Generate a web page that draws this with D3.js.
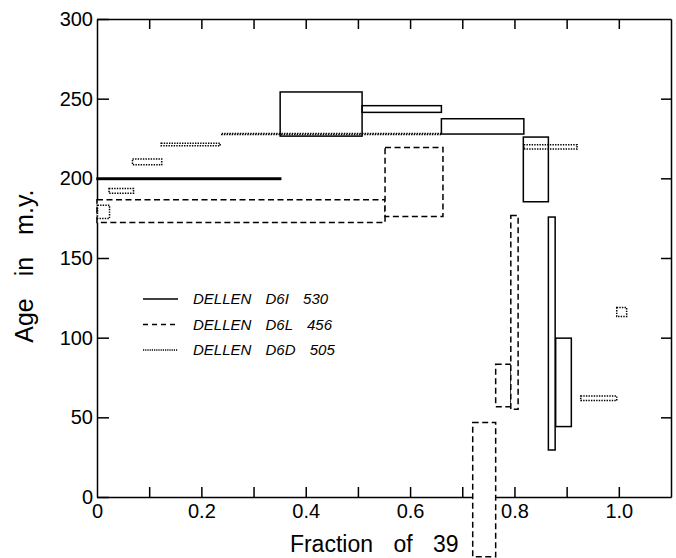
<!DOCTYPE html>
<html>
<head>
<meta charset="utf-8">
<script src="https://cdn.jsdelivr.net/npm/d3@7"></script>
<style>
  body { margin: 0; background: #fff; }
  .chart svg { display: block; }
  .axis path, .axis line { stroke: #000; stroke-width: 1.5; }
  .axis text { font-family: "Liberation Sans", Arial, sans-serif; font-size: 20px; fill: #000; }
  .title { font-family: "Liberation Sans", Arial, sans-serif; font-size: 23px; fill: #000; }
  .legend text { font-family: "Liberation Sans", Arial, sans-serif; font-style: italic; font-size: 15px; fill: #000; }
</style>
</head>
<body>
<div class="chart"></div>
<script>
// release spectra: each box is a step [fraction start, fraction end] x [age low, age high]
var solidBoxes = [
  { x0: 0.000, x1: 0.352, lo: 199.3, hi: 200.2 },
  { x0: 0.351, x1: 0.508, lo: 226.5, hi: 254.2 },
  { x0: 0.508, x1: 0.660, lo: 241.4, hi: 245.6 },
  { x0: 0.660, x1: 0.818, lo: 227.8, hi: 237.4 },
  { x0: 0.817, x1: 0.865, lo: 185.3, hi: 225.9 },
  { x0: 0.865, x1: 0.878, lo: 29.5, hi: 175.7 },
  { x0: 0.879, x1: 0.909, lo: 44.2, hi: 99.7 }
];
var dashedBoxes = [
  { x0: 0.000, x1: 0.552, lo: 172.3, hi: 186.6 },
  { x0: 0.552, x1: 0.663, lo: 176.1, hi: 219.4 },
  { x0: 0.720, x1: 0.764, lo: -37.5, hi: 46.7 },
  { x0: 0.764, x1: 0.793, lo: 56.7, hi: 83.3 },
  { x0: 0.793, x1: 0.807, lo: 55.0, hi: 176.7 }
];
var dottedBoxes = [
  { x0: 0.001, x1: 0.024, lo: 174.8, hi: 183.1 },
  { x0: 0.023, x1: 0.070, lo: 190.7, hi: 193.6 },
  { x0: 0.068, x1: 0.124, lo: 208.5, hi: 212.1 },
  { x0: 0.123, x1: 0.236, lo: 220.4, hi: 222.0 },
  { x0: 0.239, x1: 0.660, lo: 227.5, hi: 228.1 },
  { x0: 0.818, x1: 0.920, lo: 218.4, hi: 221.1 },
  { x0: 0.927, x1: 0.996, lo: 60.5, hi: 63.4 },
  { x0: 0.996, x1: 1.015, lo: 113.3, hi: 118.9 }
];
var legendLabels = ["DELLEN D6I 530", "DELLEN D6L 456", "DELLEN D6D 505"];
var xTicks = [0.1, 0.2, 0.3, 0.4, 0.5, 0.6, 0.7, 0.8, 0.9, 1.0];
var xTickLabels = ["0", "0.2", "0.4", "0.6", "0.8", "1.0"];
var xLabelValues = [0, 0.2, 0.4, 0.6, 0.8, 1.0];
var yTicks = [0, 50, 100, 150, 200, 250, 300];

var chart = {};
chart.margin = { top: 19, right: 5, bottom: 61, left: 97 };
chart.width = 676 - chart.margin.left - chart.margin.right;
chart.height = 558 - chart.margin.top - chart.margin.bottom;
chart.xScale = d3.scaleLinear().domain([0, 1.1]).range([0, chart.width]);
chart.yScale = d3.scaleLinear().domain([0, 300]).range([chart.height, 0]);

var styles = [
  { data: dashedBoxes, dash: "6,3.5", fill: "#fff" },
  { data: solidBoxes, dash: null, fill: "none" },
  { data: dottedBoxes, dash: "1.4,1.2", fill: "none" }
];

var svg = d3.select(".chart").append("svg")
  .attr("width", 676)
  .attr("height", 558)
  .append("g")
  .attr("transform", `translate(${chart.margin.left}, ${chart.margin.top})`);

// frame + ticks (all ticks point inward)
svg.append("g")
  .attr("class", "x axis")
  .attr("transform", `translate(0, ${chart.height})`)
  .call(d3.axisBottom(chart.xScale).tickValues(xTicks).tickSize(-10).tickSizeOuter(0).tickFormat(""));

svg.append("g")
  .attr("class", "x axis labels")
  .attr("transform", `translate(0, ${chart.height})`)
  .call(d3.axisBottom(chart.xScale).tickValues(xLabelValues).tickSize(0).tickPadding(7)
    .tickFormat((d, i) => xTickLabels[i]))
  .call(g => g.select(".domain").remove());

svg.append("g")
  .attr("class", "x axis")
  .call(d3.axisTop(chart.xScale).tickValues(xTicks).tickSize(-10).tickSizeOuter(0).tickFormat(""));

svg.append("g")
  .attr("class", "y axis")
  .call(d3.axisLeft(chart.yScale).tickValues(yTicks).tickSize(-12).tickSizeOuter(0).tickPadding(4).tickFormat(d3.format("d")));

svg.append("g")
  .attr("class", "y axis")
  .attr("transform", `translate(${chart.width}, 0)`)
  .call(d3.axisRight(chart.yScale).tickValues(yTicks.slice(1, -1)).tickSize(-10).tickSizeOuter(0).tickFormat(""));

// boxes
styles.forEach(function(s) {
  svg.append("g").selectAll("rect")
    .data(s.data)
    .enter().append("rect")
    .attr("x", d => chart.xScale(d.x0))
    .attr("y", d => chart.yScale(d.hi))
    .attr("width", d => chart.xScale(d.x1) - chart.xScale(d.x0))
    .attr("height", d => chart.yScale(d.lo) - chart.yScale(d.hi))
    .attr("fill", s.fill)
    .attr("stroke", "#000")
    .attr("stroke-width", 1.5)
    .attr("stroke-dasharray", s.dash);
});

// legend
var legend = svg.append("g").attr("class", "legend")
  .attr("transform", "translate(46, 280)");
var legendDash = [null, "5,4", "1.2,1"];
legendLabels.forEach(function(label, i) {
  var row = legend.append("g").attr("transform", `translate(0, ${i * 25.5})`);
  row.append("line")
    .attr("x1", 0).attr("x2", 35)
    .attr("stroke", "#000")
    .attr("stroke-width", 1.3)
    .attr("stroke-dasharray", legendDash[i]);
  row.append("text")
    .attr("x", 50)
    .attr("dy", "0.36em")
    .style("word-spacing", "10px")
    .text(label);
});

// axis titles
svg.append("text")
  .attr("class", "title")
  .attr("x", chart.width * 0.483)
  .attr("y", chart.height + 55)
  .attr("text-anchor", "middle")
  .style("word-spacing", "14px")
  .text("Fraction of 39");

svg.append("text")
  .attr("class", "title")
  .attr("transform", `translate(-64, ${chart.height * 0.517}) rotate(-90)`)
  .attr("text-anchor", "middle")
  .style("font-size", "25px")
  .style("word-spacing", "15px")
  .text("Age in m.y.");
</script>
</body>
</html>
